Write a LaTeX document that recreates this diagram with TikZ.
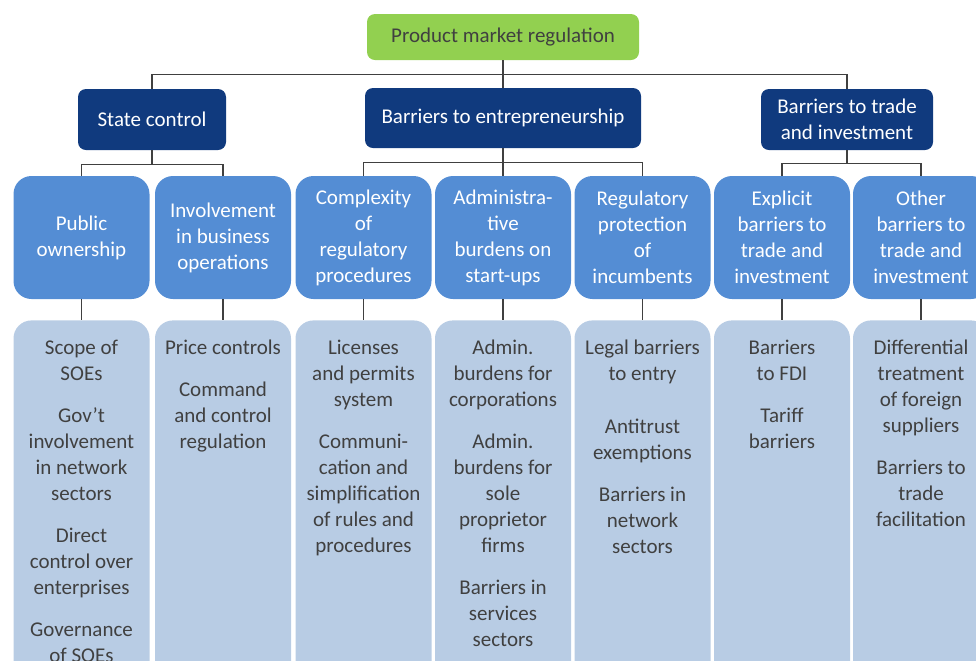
\documentclass[tikz,border=0pt]{standalone}
\usepackage{fontspec}
\setmainfont{Carlito}
\usepackage{tikz}

\definecolor{pmrgreen}{RGB}{146,208,80}
\definecolor{pmrnavy}{RGB}{16,58,126}
\definecolor{pmrblue}{RGB}{84,141,212}
\definecolor{pmrlight}{RGB}{184,204,228}
\definecolor{pmrtext}{RGB}{64,64,64}
\definecolor{pmrline}{RGB}{64,64,64}

\begin{document}
\begin{tikzpicture}[x=0.5pt,y=-0.5pt,
    every node/.style={font=\fontsize{10.5}{13}\selectfont, align=center, inner sep=0pt},
    rootbox/.style={fill=pmrgreen, rounded corners=4pt, minimum width=136pt, minimum height=23pt, text=pmrtext},
    areabox/.style={fill=pmrnavy, rounded corners=4pt, minimum height=30.5pt, text=white},
    subbox/.style={fill=pmrblue, rounded corners=9pt, minimum width=68pt, minimum height=61.5pt, text=white},
    listbox/.style={fill=pmrlight, rounded corners=9pt, minimum width=68pt, minimum height=180pt, anchor=north},
    listtext/.style={anchor=north, text=pmrtext, yshift=-10pt},
    link/.style={draw=pmrline, line width=0.8pt}]
  \clip (0,0) rectangle (976,660);

  % top
  \node[rootbox] (pmr) at (503,37) {Product market regulation};

  % areas
  \node[areabox, minimum width=74pt] (sc) at (152,119.5) {State control};
  \node[areabox, minimum width=138pt, minimum height=30pt] (bte) at (503,118) {Barriers to entrepreneurship};
  \node[areabox, minimum width=86pt] (btt) at (847,119.5) {Barriers to trade\\and investment};

  % sub areas
  \node[subbox] (po) at (81.5,237.5) {Public\\ownership};
  \node[subbox] (ib) at (223,237.5) {Involvement\\in business\\operations};
  \node[subbox] (cx) at (363.5,237.5) {Complexity\\of\\regulatory\\procedures};
  \node[subbox] (ab) at (503,237.5) {Administra-\\tive\\burdens on\\start-ups};
  \node[subbox] (rp) at (642.5,237.5) {Regulatory\\protection\\of\\incumbents};
  \node[subbox] (eb) at (782,237.5) {Explicit\\barriers to\\trade and\\investment};
  \node[subbox] (ob) at (921,237.5) {Other\\barriers to\\trade and\\investment};

  % lists
  \foreach \n/\x in {po/81.5, ib/223, cx/363.5, ab/503, rp/642.5, eb/782, ob/921}
    \node[listbox] (\n-list) at (\x,320) {};

  \node[listtext] at (po-list.north) {Scope of\\SOEs\\[8pt]Gov’t\\involvement\\in network\\sectors\\[8pt]Direct\\control over\\enterprises\\[8pt]Governance\\of SOEs};
  \node[listtext] at (ib-list.north) {Price controls\\[8pt]Command\\and control\\regulation};
  \node[listtext] at (cx-list.north) {Licenses\\and permits\\system\\[8pt]Communi-\\cation and\\simplification\\of rules and\\procedures};
  \node[listtext] at (ab-list.north) {Admin.\\burdens for\\corporations\\[8pt]Admin.\\burdens for\\sole\\proprietor\\firms\\[8pt]Barriers in\\services\\sectors};
  \node[listtext] at (rp-list.north) {Legal barriers\\to entry\\[13.5pt]Antitrust\\exemptions\\[8pt]Barriers in\\network\\sectors};
  \node[listtext] at (eb-list.north) {Barriers\\to FDI\\[8pt]Tariff\\barriers};
  \node[listtext] at (ob-list.north) {Differential\\treatment\\of foreign\\suppliers\\[8pt]Barriers to\\trade\\facilitation};

  % connectors
  \draw[link] (pmr.south) -- (bte.north);
  \draw[link] (sc.north) -- ++(0,-14) -| (btt.north);
  \draw[link] (sc.south) -- ++(0,14);
  \draw[link] (po.north) -- ++(0,-11) -| (ib.north);
  \draw[link] (bte.south) -- (ab.north);
  \draw[link] (cx.north) -- ++(0,-13) -| (rp.north);
  \draw[link] (btt.south) -- ++(0,13);
  \draw[link] (eb.north) -- ++(0,-12) -| (ob.north);
  \foreach \n in {po, ib, cx, ab, rp, eb, ob}
    \draw[link] (\n.south) -- (\n-list.north);
\end{tikzpicture}
\end{document}
